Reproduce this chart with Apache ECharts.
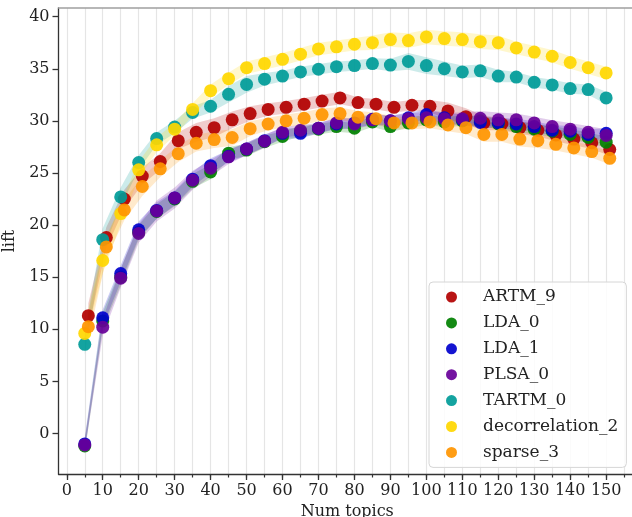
<!DOCTYPE html>
<html>
<head>
<meta charset="utf-8">
<script src="https://cdn.jsdelivr.net/npm/echarts@6/dist/echarts.min.js"></script>
<style>
html,body{margin:0;padding:0;background:#fff;}
#chart{width:632px;height:517px;}
</style>
</head>
<body>
<div id="chart"></div>
<script>
// ---- data ----
const topicsA = [5,10,15,20,25,30,35,40,45,50,55,60,65,70,75,80,85,90,95,100,105,110,115,120,125,130,135,140,145,150];
const topicsB = [6,11,16,21,26,31,36,41,46,51,56,61,66,71,76,81,86,91,96,101,106,111,116,121,126,131,136,141,146,151];

const artm9 = [11.3,18.8,22.5,24.7,26.1,28.1,28.9,29.35,30.1,30.7,31.1,31.3,31.6,31.9,32.2,31.75,31.6,31.3,31.5,31.4,30.95,30.4,29.8,29.7,29.35,29.1,28.65,28.25,27.9,27.25];
const lda0 = [-1.2,10.8,15.0,19.3,21.3,22.5,24.2,25.1,26.9,27.2,28.0,28.5,29.0,29.2,29.45,29.3,29.9,29.45,29.8,30.1,29.9,30.0,30.0,29.7,29.45,29.2,29.0,28.7,28.4,27.95];
const lda1 = [-1.0,11.1,15.35,19.55,21.4,22.6,24.4,25.7,26.6,27.3,28.1,28.8,28.8,29.3,29.7,29.8,30.15,30.0,30.3,30.6,30.3,30.1,29.85,29.8,29.7,29.45,29.1,29.0,28.7,28.8];
const plsa0 = [-1.1,10.2,14.9,19.2,21.35,22.6,24.3,25.45,26.55,27.3,28.05,28.9,29.1,29.3,29.8,29.7,30.1,30.0,30.2,30.3,30.2,30.2,30.25,30.1,30.1,29.8,29.45,29.2,28.9,28.6];
const tartm0 = [8.55,18.6,22.7,26.0,28.3,29.4,30.8,31.4,32.55,33.5,34.0,34.3,34.7,34.95,35.2,35.3,35.5,35.35,35.7,35.3,35.0,34.7,34.8,34.3,34.2,33.7,33.45,33.1,33.0,32.2];
const decor2 = [9.6,16.6,21.1,25.3,27.7,29.2,31.1,32.9,34.05,35.1,35.5,35.9,36.4,36.9,37.1,37.35,37.5,37.8,37.7,38.05,37.9,37.8,37.6,37.5,37.0,36.6,36.2,35.6,35.1,34.6];
const sparse3 = [10.25,17.9,21.45,23.7,25.4,26.85,27.85,28.2,28.4,29.25,29.7,30.0,30.25,30.6,30.7,30.35,30.2,29.8,29.8,29.9,29.6,29.35,28.7,28.7,28.25,28.1,27.75,27.4,27.05,26.4];

// half-widths of the shaded confidence bands
const artm9Band = [1.2,1.0,0.9,0.8,0.8,0.8,0.9,0.9,0.8,0.7,0.6,0.6,0.6,0.6,0.6,0.5,0.5,0.5,0.5,0.6,0.8,0.8,0.7,0.6,0.6,0.6,0.6,0.6,0.6,0.6];
const lda0Band = [0.6,0.8,0.8,0.7,0.7,0.7,0.7,0.7,0.6,0.6,0.6,0.5,0.5,0.5,0.5,0.5,0.5,0.5,0.5,0.5,0.5,0.5,0.5,0.5,0.5,0.5,0.5,0.5,0.5,0.5];
const lda1Band = [0.6,0.8,0.8,0.8,0.8,0.7,0.7,0.7,0.6,0.6,0.6,0.5,0.5,0.5,0.5,0.5,0.5,0.5,0.5,0.5,0.5,0.5,0.5,0.5,0.5,0.5,0.5,0.5,0.5,0.5];
const plsa0Band = [0.5,0.8,0.9,0.9,1.0,1.0,0.9,0.8,0.7,0.6,0.6,0.5,0.5,0.5,0.5,0.5,0.5,0.5,0.5,0.6,0.6,0.6,0.7,0.7,0.6,0.6,0.6,0.6,0.6,0.6];
const tartm0Band = [1.0,1.1,0.9,0.7,0.6,0.6,0.6,0.6,0.8,0.8,0.6,0.5,0.5,0.5,0.5,0.5,0.5,0.6,0.8,0.8,0.7,0.6,0.6,0.6,0.5,0.5,0.5,0.5,0.5,0.6];
const decor2Band = [1.0,1.2,1.0,0.8,0.7,0.6,0.6,0.6,0.6,0.6,0.6,0.6,0.6,0.6,0.6,0.6,0.7,0.7,0.7,0.7,0.7,0.7,0.7,0.7,0.6,0.6,0.6,0.6,0.6,0.6];
const sparse3Band = [1.2,1.1,1.0,0.9,0.8,0.8,0.8,0.8,0.8,0.7,0.6,0.6,0.6,0.6,0.6,0.6,0.6,0.6,0.6,0.6,0.6,0.6,0.7,0.7,0.7,0.7,0.6,0.6,0.6,0.6];

const seriesNames = ['ARTM_9','LDA_0','LDA_1','PLSA_0','TARTM_0','decorrelation_2','sparse_3'];
const seriesX = [topicsB, topicsA, topicsA, topicsA, topicsA, topicsA, topicsB];
const seriesY = [artm9, lda0, lda1, plsa0, tartm0, decor2, sparse3];
const seriesBand = [artm9Band, lda0Band, lda1Band, plsa0Band, tartm0Band, decor2Band, sparse3Band];
const seriesColors = ['#B20000','#008000','#0000CD','#680099','#009B98','#FFD700','#FF9500'];

const xMajorTicks = [0,10,20,30,40,50,60,70,80,90,100,110,120,130,140,150];
const xMinorTicks = [0,5,10,15,20,25,30,35,40,45,50,55,60,65,70,75,80,85,90,95,100,105,110,115,120,125,130,135,140,145,150,155];
const yTicks = [0,5,10,15,20,25,30,35,40];

// ---- chart ----
const FONT = 'DejaVu Serif';
const chart = echarts.init(document.getElementById('chart'), null, {renderer:'canvas'});

const bands = seriesNames.map((name, k) => {
  const data = seriesX[k].map((x, i) => [x, seriesY[k][i] - seriesBand[k][i], seriesY[k][i] + seriesBand[k][i]]);
  const color = seriesColors[k];
  return {
    type: 'custom',
    name: name + ' band',
    xAxisIndex: 0, yAxisIndex: 0,
    silent: true,
    z: 1,
    data: data,
    encode: {x: 0, y: [1, 2]},
    renderItem: function (params, api) {
      if (params.dataIndex !== 0) return null;
      const up = data.map(d => api.coord([d[0], d[2]]));
      const lo = data.map(d => api.coord([d[0], d[1]])).reverse();
      return {
        type: 'polygon',
        shape: {points: up.concat(lo)},
        style: {fill: color, opacity: 0.2, stroke: null}
      };
    }
  };
});

const points = seriesNames.map((name, k) => ({
  type: 'scatter',
  name: name,
  xAxisIndex: 0, yAxisIndex: 0,
  z: 3,
  symbol: 'circle',
  symbolSize: 13,
  itemStyle: {color: seriesColors[k], opacity: 0.92},
  data: seriesX[k].map((x, i) => [x, seriesY[k][i]])
}));

const xMin = -2.3, xMax = 158.3, yMin = -3.89, yMax = 40.83;

chart.setOption({
  animation: false,
  backgroundColor: '#fff',
  grid: {left: 58.5, top: 8, right: -4, bottom: 43, containLabel: false, outerBoundsMode: 'none'},
  legend: {
    data: seriesNames,
    orient: 'vertical',
    left: 429, top: 282,
    padding: [6, 8, 6, 17],
    itemWidth: 11, itemHeight: 11, itemGap: 7.9,
    icon: 'circle',
    backgroundColor: 'rgba(255,255,255,0.85)',
    borderColor: '#d6d6d6', borderWidth: 1, borderRadius: 4,
    textStyle: {fontFamily: FONT, fontSize: 17, color: '#222', lineHeight: 18, padding: [0,0,0,21]}
  },
  xAxis: [
    {
      type: 'value', min: xMin, max: xMax, position: 'bottom',
      axisLine: {show: true, onZero: false, lineStyle: {color: '#333', width: 1.3}},
      axisTick: {show: true, customValues: xMinorTicks, length: 3.5, lineStyle: {color: '#333', width: 1.2}},
      axisLabel: {show: false},
      splitLine: {show: true, lineStyle: {color: '#e5e5e5', width: 1.2}}
    },
    {
      type: 'value', min: xMin, max: xMax, position: 'bottom',
      name: 'Num topics', nameLocation: 'middle', nameGap: 25,
      nameTextStyle: {fontFamily: FONT, fontSize: 16, color: '#222'},
      axisLine: {show: false, onZero: false},
      axisTick: {show: true, customValues: xMajorTicks, length: 6, lineStyle: {color: '#333', width: 1.3}},
      axisLabel: {show: true, customValues: xMajorTicks, margin: 9, fontFamily: FONT, fontSize: 16, color: '#222'},
      splitLine: {show: false}
    },
    {
      type: 'value', min: xMin, max: xMax, position: 'top',
      axisLine: {show: true, onZero: false, lineStyle: {color: '#a0a0a0', width: 1.6}},
      axisTick: {show: false}, axisLabel: {show: false}, splitLine: {show: false}
    }
  ],
  yAxis: [
    {
      type: 'value', min: yMin, max: yMax, position: 'left',
      name: 'lift', nameLocation: 'middle', nameGap: 27, nameRotate: 90,
      nameTextStyle: {fontFamily: FONT, fontSize: 16, color: '#222'},
      axisLine: {show: true, onZero: false, lineStyle: {color: '#333', width: 1.3}},
      axisTick: {show: true, customValues: yTicks, length: 6, lineStyle: {color: '#333', width: 1.3}},
      axisLabel: {show: true, customValues: yTicks, margin: 9, fontFamily: FONT, fontSize: 16, color: '#222'},
      splitLine: {show: false}
    }
  ],
  series: bands.concat(points)
});
</script>
</body>
</html>
